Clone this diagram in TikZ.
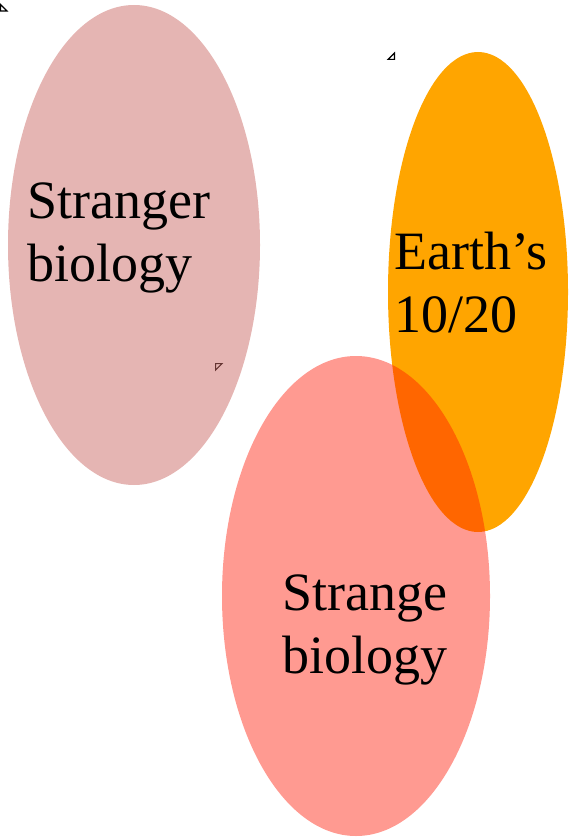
\documentclass[tikz,border=0pt]{standalone}
\usepackage{fontspec}
\setmainfont{Liberation Serif}
\usepackage{tikz}
\usetikzlibrary{shapes.geometric}
\definecolor{rosebrown}{RGB}{203,107,103}
\definecolor{earthorange}{RGB}{255,165,0}
\definecolor{strangered}{RGB}{255,20,0}

\begin{document}
\begin{tikzpicture}[
  x=1pt, y=-1pt,
  blob/.style={ellipse, inner sep=0pt, draw=none},
  lbl/.style={font=\fontsize{54}{63}\selectfont, align=left, anchor=north west, inner sep=0pt},
  tick/.style={draw=black, line width=1.2pt, line join=miter}]
\useasboundingbox (0,0) rectangle (568,837);
% little marks
\draw[tick] (0.6,4.5) -- (0.6,11) -- (7,11) -- cycle;
\draw[tick] (394.4,53) -- (394.4,59.4) -- (388,59.4) -- cycle;
\draw[tick] (215.6,363.6) -- (222,363.6) -- (215.6,370) -- cycle;
% ellipses
\node[blob, fill=rosebrown, fill opacity=0.5, minimum width=252pt, minimum height=480pt] (stranger) at (134,245) {};
\node[blob, fill=earthorange, minimum width=180pt, minimum height=480pt] (earth) at (478,292) {};
\node[blob, fill=strangered, fill opacity=0.43, minimum width=268pt, minimum height=480pt] (strange) at (356,596) {};
% texts
\node[lbl] (strangertext) at (27,183) {Stranger\\biology};
\node[lbl] (earthtext) at (394,232) {Earth’s\\10/20};
\node[lbl] (strangetext) at (282,575) {Strange\\biology};
\end{tikzpicture}
\end{document}
